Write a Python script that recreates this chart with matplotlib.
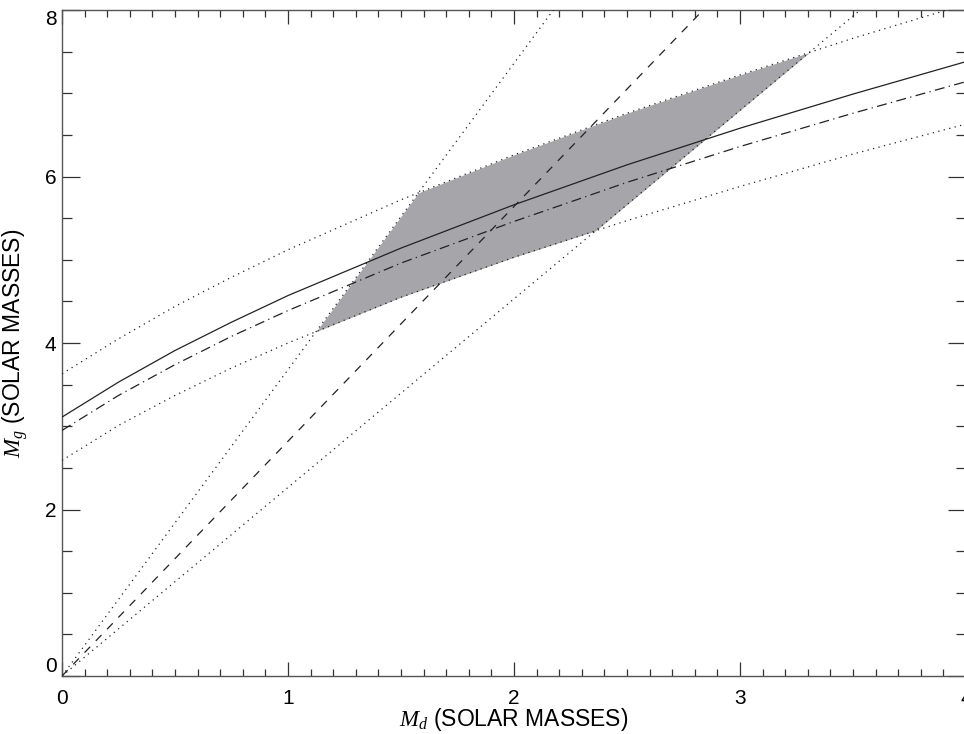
import numpy as np
import matplotlib
matplotlib.use("Agg")
import matplotlib.pyplot as plt
from matplotlib.ticker import MultipleLocator

plt.rcParams['font.family'] = ['Liberation Sans', 'DejaVu Sans']
plt.rcParams['mathtext.fontset'] = 'custom'
plt.rcParams['mathtext.it'] = 'Liberation Serif:italic'
plt.rcParams['mathtext.rm'] = 'Liberation Serif'

# values (M_d in solar masses)
md = [0.0, 0.25, 0.5, 0.75, 1.0, 1.5, 2.0, 2.5, 3.0, 3.5, 4.0]
mg_solid = [3.11, 3.53, 3.91, 4.25, 4.57, 5.14, 5.66, 6.14, 6.58, 6.99, 7.38]
mg_dashdot = [2.95, 3.37, 3.74, 4.08, 4.39, 4.96, 5.46, 5.93, 6.36, 6.76, 7.14]
mg_upper = [3.63, 4.05, 4.44, 4.79, 5.12, 5.72, 6.26, 6.76, 7.22, 7.66, 8.07]
mg_lower = [2.59, 3.01, 3.37, 3.70, 4.00, 4.55, 5.03, 5.47, 5.88, 6.27, 6.63]

# straight lines through the origin
ray_x = [0.0, 4.0]
steep_y = [0.0, 14.72]
dashed_y = [0.0, 11.28]
shallow_y = [0.0, 9.06]

x_ticks = [0, 1, 2, 3, 4]
y_ticks = [0, 2, 4, 6, 8]

fig = plt.figure(figsize=(9.64, 7.34), dpi=100)
ax = fig.add_axes([62 / 964, 58 / 734, 904 / 964, 666 / 734])

ink = '#222222'
lw = 0.9

# shaded region: between the two dotted curves and the two dotted rays
xf = np.linspace(0, 4, 2001)
lo = np.maximum(np.interp(xf, md, mg_lower), np.interp(xf, ray_x, shallow_y))
hi = np.minimum(np.interp(xf, md, mg_upper), np.interp(xf, ray_x, steep_y))
ax.fill_between(xf, lo, hi, where=hi >= lo, color='#a6a6aa', lw=0, zorder=1)

ax.plot(md, mg_solid, color=ink, lw=lw, zorder=3)
ax.plot(md, mg_dashdot, color=ink, lw=lw, dashes=(8, 3.5, 1, 3.5), zorder=3)
ax.plot(md, mg_upper, color=ink, lw=lw, dashes=(1, 3.5), zorder=3)
ax.plot(md, mg_lower, color=ink, lw=lw, dashes=(1, 3.5), zorder=3)
ax.plot(ray_x, steep_y, color=ink, lw=lw, dashes=(1, 3.5), zorder=3)
ax.plot(ray_x, shallow_y, color=ink, lw=lw, dashes=(1, 3.5), zorder=3)
ax.plot(ray_x, dashed_y, color=ink, lw=lw, dashes=(6.5, 6.5), zorder=3)

ax.set_xlim(0, 4)
ax.set_ylim(0, 8)
ax.set_xticks(x_ticks)
ax.set_yticks(y_ticks)
ax.xaxis.set_minor_locator(MultipleLocator(0.1))
ax.yaxis.set_minor_locator(MultipleLocator(0.5))

for s in ax.spines.values():
    s.set_color('#555555')
    s.set_linewidth(1.0)

ax.tick_params(which='both', direction='in', top=True, right=True,
               color='#333333', width=0.9, labelsize=15, labelcolor='black')
ax.tick_params(axis='x', which='major', length=10, pad=9)
ax.tick_params(axis='x', which='minor', length=5)
ax.tick_params(axis='y', which='major', length=13, pad=4)
ax.tick_params(axis='y', which='minor', length=7)

# end labels sit inside the axis range, like the original
ylabs = ax.get_yticklabels()
ylabs[0].set_va('bottom')
ylabs[-1].set_va('top')

ax.set_xlabel(r'$M_d$ (SOLAR MASSES)', fontsize=16.5)
ax.set_ylabel(r'$M_g$ (SOLAR MASSES)', fontsize=16.5)
ax.xaxis.set_label_coords(0.5, -0.045)
ax.yaxis.set_label_coords(-0.035, 0.5)

fig.savefig('out.png', dpi=100)
